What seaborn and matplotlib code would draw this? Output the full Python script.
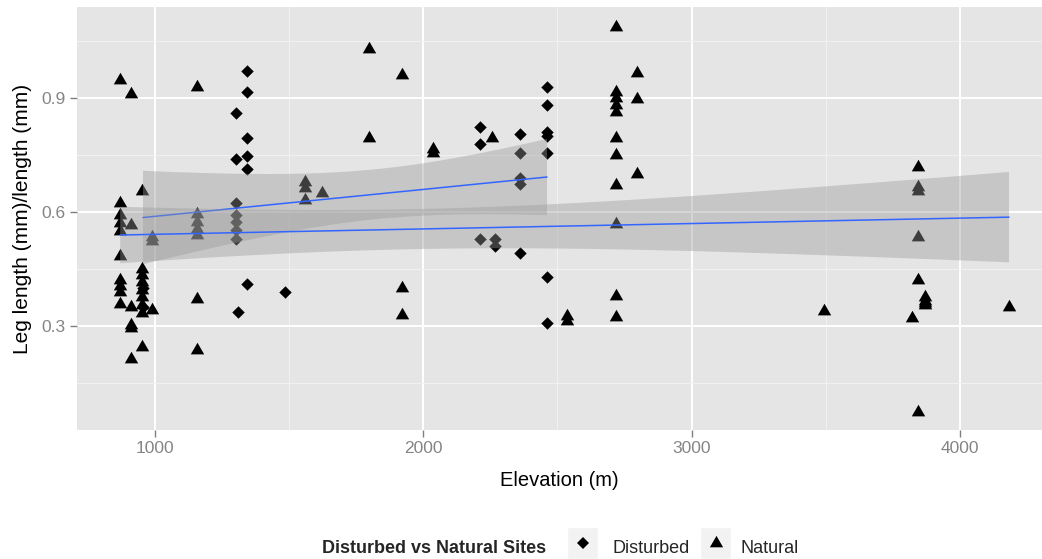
import matplotlib
matplotlib.use("Agg")
import matplotlib.pyplot as plt
from matplotlib.lines import Line2D
from matplotlib.patches import Rectangle
from matplotlib.path import Path
from matplotlib.ticker import MultipleLocator
import numpy as np
import pandas as pd
import seaborn as sns

# Leg-to-body length ratio by site elevation, split by site type
disturbed_elev = [955, 955,
                  1302, 1302, 1302, 1302, 1302, 1302, 1302, 1309,
                  1343, 1343, 1343, 1343, 1343, 1343, 1484,
                  2211, 2211, 2211, 2267, 2267,
                  2360, 2360, 2360, 2360, 2360,
                  2461, 2461, 2461, 2461, 2461, 2461, 2461]
disturbed_ratio = [0.40, 0.35,
                   0.861, 0.739, 0.624, 0.592, 0.574, 0.553, 0.53, 0.337,
                   0.971, 0.916, 0.795, 0.747, 0.713, 0.41, 0.389,
                   0.824, 0.779, 0.529, 0.529, 0.51,
                   0.805, 0.755, 0.69, 0.675, 0.492,
                   0.929, 0.881, 0.81, 0.80, 0.755, 0.429, 0.308]

natural_elev = [870, 870, 870, 870, 870, 870, 870, 870, 870, 870,
                910, 910, 910, 910, 910, 910,
                951, 951, 951, 951, 951, 951, 951, 951, 951,
                989, 989, 989,
                1156, 1156, 1156, 1156, 1156, 1156, 1156,
                1560, 1560, 1560, 1622,
                1797, 1797, 1920, 1920, 1920, 2036, 2036, 2256,
                2535, 2535,
                2718, 2718, 2718, 2718, 2718, 2718, 2718, 2718, 2718, 2718, 2718,
                2797, 2797, 2797,
                3493,
                3844, 3844, 3844, 3844, 3844, 3844,
                3870, 3870, 3870, 3870, 3821, 4183]
natural_ratio = [0.948, 0.625, 0.592, 0.570, 0.550, 0.485, 0.42, 0.405, 0.39, 0.358,
                 0.911, 0.567, 0.350, 0.303, 0.295, 0.213,
                 0.655, 0.450, 0.435, 0.415, 0.395, 0.375, 0.355, 0.335, 0.245,
                 0.535, 0.525, 0.342,
                 0.929, 0.595, 0.575, 0.555, 0.540, 0.371, 0.237,
                 0.680, 0.663, 0.632, 0.650,
                 1.030, 0.795, 0.961, 0.400, 0.329, 0.765, 0.755, 0.795,
                 0.325, 0.313,
                 1.087, 0.915, 0.900, 0.882, 0.863, 0.795, 0.750, 0.671, 0.569, 0.379, 0.324,
                 0.966, 0.898, 0.700,
                 0.340,
                 0.719, 0.667, 0.655, 0.535, 0.421, 0.074,
                 0.375, 0.365, 0.36, 0.355, 0.321, 0.350]

site_names = ["Disturbed", "Natural"]
x_ticks = [1000, 2000, 3000, 4000]
y_ticks = [0.3, 0.6, 0.9]

df = pd.concat([
    pd.DataFrame({"elevation": disturbed_elev, "ratio": disturbed_ratio, "site": site_names[0]}),
    pd.DataFrame({"elevation": natural_elev, "ratio": natural_ratio, "site": site_names[1]}),
], ignore_index=True)

sns.set_style("darkgrid", {"axes.facecolor": "#E5E5E5", "grid.color": "white"})
plt.rcParams["font.family"] = ["Liberation Sans", "DejaVu Sans"]

# equilateral triangle centred on its centroid
tri = Path([(0, 1), (-0.866, -0.5), (0.866, -0.5), (0, 1)],
           [Path.MOVETO, Path.LINETO, Path.LINETO, Path.CLOSEPOLY])
marker_of = {"Disturbed": "D", "Natural": tri}
size_of = {"Disturbed": 40, "Natural": 125}


def t_quantile(df_, z=1.959964):
    # Cornish-Fisher expansion of the Student t 97.5% quantile
    return (z + (z**3 + z) / (4 * df_)
            + (5 * z**5 + 16 * z**3 + 3 * z) / (96 * df_**2))


W, H = 1042, 559
fig = plt.figure(figsize=(W / 100, H / 100), dpi=100)
fig.patch.set_facecolor("white")
ax = fig.add_axes([77 / W, 1 - 430 / H, 1 - 77 / W, 423 / H])

# points first, smoothers on top of them
for site in site_names:
    sub = df[df["site"] == site]
    sns.scatterplot(data=sub, x="elevation", y="ratio", marker=marker_of[site],
                    s=size_of[site], color="black", linewidth=0, legend=False,
                    ax=ax, zorder=2)

z = 3
for site in site_names:
    sub = df[df["site"] == site]
    x = sub["elevation"].to_numpy(float)
    y = sub["ratio"].to_numpy(float)
    n = len(x)
    slope, icpt = np.polyfit(x, y, 1)
    resid = y - (icpt + slope * x)
    s_err = np.sqrt(np.sum(resid**2) / (n - 2))
    grid = np.linspace(x.min(), x.max(), 80)
    fit = icpt + slope * grid
    se = s_err * np.sqrt(1 / n + (grid - x.mean())**2 / np.sum((x - x.mean())**2))
    half = t_quantile(n - 2) * se
    ax.fill_between(grid, fit - half, fit + half, facecolor="#999999", alpha=0.4,
                    edgecolor="none", zorder=z)
    n_lines = len(ax.lines)
    sns.regplot(data=sub, x="elevation", y="ratio", scatter=False, ci=None, ax=ax,
                line_kws={"color": "#3366FF", "lw": 1.1})
    for ln in ax.lines[n_lines:]:
        ln.set_zorder(z + 1)
    z += 2

ax.set_xlim(709, 4306)
ax.set_ylim(0.0263, 1.1395)
ax.set_xticks(x_ticks)
ax.set_yticks(y_ticks)
ax.set_xticklabels([str(v) for v in x_ticks])
ax.set_yticklabels([f"{v:.1f}" for v in y_ticks])
ax.xaxis.set_minor_locator(MultipleLocator(500))
ax.yaxis.set_minor_locator(MultipleLocator(0.15))
ax.grid(which="major", color="white", lw=1.4)
ax.grid(which="minor", color="#F2F2F2", lw=0.7)
ax.set_axisbelow(True)
for sp in ax.spines.values():
    sp.set_visible(False)
ax.tick_params(which="major", direction="out", length=5, width=1,
               color="#7F7F7F", labelcolor="#858585", labelsize=12.5, pad=3,
               bottom=True, left=True)
ax.tick_params(which="minor", length=0)

ax.set_xlabel("Elevation (m)", fontsize=14.5, color="black", labelpad=11)
ax.set_ylabel("Leg length (mm)/length (mm)", fontsize=15, color="black", labelpad=7)

# legend along the bottom
fig.text(322 / W, 1 - 553 / H, "Disturbed vs Natural Sites", fontsize=13,
         fontweight="bold", ha="left", va="baseline")
for x0, site, tx in [(567, "Disturbed", 612), (700, "Natural", 741)]:
    fig.patches.append(Rectangle((x0 / W, 0), 31 / W, 32 / H, transform=fig.transFigure,
                                 facecolor="#F2F2F2", edgecolor="white", lw=1))
    fig.lines.append(Line2D([(x0 + 16) / W], [1 - 543 / H], transform=fig.transFigure,
                            marker=marker_of[site], color="black", linestyle="none",
                            markersize=6.3 if site == "Disturbed" else 11,
                            markeredgewidth=0))
    fig.text(tx / W, 1 - 553 / H, site, fontsize=13, ha="left", va="baseline")

fig.savefig("out.png", dpi=100)
